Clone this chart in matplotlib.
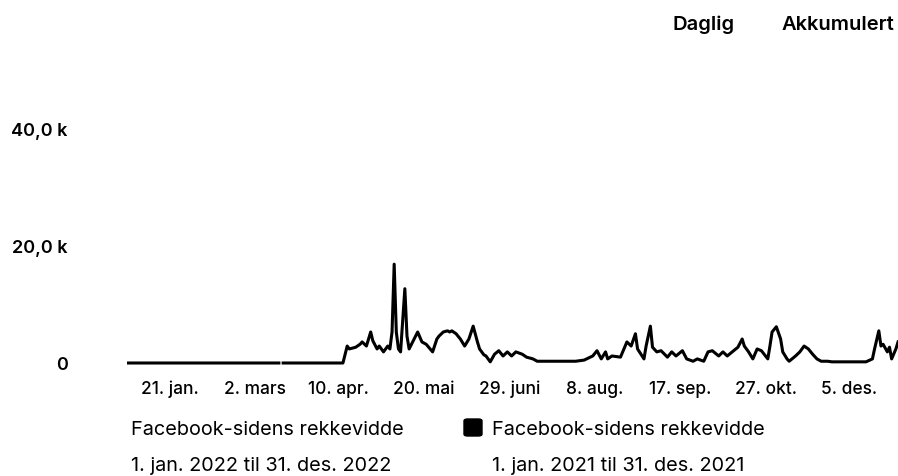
import numpy as np
import matplotlib
matplotlib.use("Agg")
from matplotlib import pyplot as plt
from matplotlib.patches import FancyBboxPatch

plt.rcParams['font.family'] = ['Inter', 'DejaVu Sans']

# day of year 2022 (0 = 1. jan.) and daily page reach
days = [0, 71, 72, 73, 101,
        103, 104, 107, 109, 110, 112, 114, 115, 117, 118, 120, 122, 123, 124,
        125, 126, 127, 128, 130, 131, 132, 135, 136, 138, 140, 143, 145, 146,
        148, 150, 151, 152, 154, 156, 158, 160, 162, 164, 165, 167, 168, 170,
        172, 174, 176, 178, 180, 182, 185, 187, 190, 192, 196, 200, 205, 210,
        214, 218, 220, 222, 224, 225, 227, 231, 234, 236, 238, 239, 242, 243,
        245, 246, 248, 250, 253, 255, 257, 260, 262, 265, 267, 270, 272, 274,
        277, 279, 281, 284, 286, 288, 289, 291, 293, 295, 297, 300, 301, 302,
        304, 306, 307, 309, 310, 313, 315, 317, 319, 321, 323, 325, 328, 330,
        334, 338, 343, 346, 349, 350, 352, 353, 354, 356, 357, 358, 360, 361]
reach = [0, 0, np.nan, 0, 0,
         2900, 2400, 2700, 3200, 3600, 2900, 5300, 3800, 2400, 2900, 1900, 2900, 2400, 5300,
         16900, 5300, 2400, 1900, 12700, 4600, 2400, 4600, 5300, 3600, 3200, 1900, 4100, 4600,
         5300, 5500, 5300, 5500, 5000, 4100, 2900, 4100, 6300, 3600, 2400, 1400, 1200, 200,
         1500, 2100, 1200, 1900, 1200, 1900, 1500, 1000, 700, 300, 300, 300, 300, 300,
         500, 1200, 2100, 700, 1900, 700, 1200, 1000, 3600, 2900, 5000, 2400, 700, 2900,
         6300, 2700, 1900, 2100, 1000, 1900, 1200, 2100, 700, 300, 700, 300, 1900, 2100,
         1200, 1900, 1200, 2100, 2700, 4100, 2900, 1900, 700, 2400, 2100, 700, 2900, 5300,
         6200, 4100, 1900, 700, 300, 1200, 1900, 2900, 2400, 1500, 700, 300, 300, 200,
         200, 200, 200, 200, 700, 2400, 5500, 2900, 3200, 1900, 2700, 700, 2400, 3600]

tick_days = [20, 60, 99, 139, 179, 219, 259, 299, 338]
tick_labels = ['21. jan.', '2. mars', '10. apr.', '20. mai', '29. juni',
               '8. aug.', '17. sep.', '27. okt.', '5. des.']
y_ticks = [0, 20000, 40000]
y_labels = ['0', '20,0 k', '40,0 k']

W, H = 898, 477
fig = plt.figure(figsize=(W / 100, H / 100), dpi=100)

px_day = 2.135
x0 = 127.3
px_k = 5.85          # pixels per 1000
y0 = 364             # pixel row of zero
ymin, ymax = -1000, 45000
bottom = y0 + (0 - ymin) / 1000 * px_k
top = y0 - ymax / 1000 * px_k
ax = fig.add_axes([x0 / W, (H - bottom) / H, (W - x0) / W, (bottom - top) / H])
ax.set_xlim(0, (W - x0) / px_day)
ax.set_ylim(ymin, ymax)

ax.plot(days, reach, color='black', lw=2.2, solid_joinstyle='round')

for s in ax.spines.values():
    s.set_visible(False)
ax.set_xticks(tick_days)
ax.set_xticklabels(tick_labels, fontsize=12.5, fontweight='medium')
ax.set_yticks(y_ticks)
ax.set_yticklabels(y_labels, fontsize=13, fontweight='semibold')
ax.tick_params(axis='x', length=0, pad=8)
ax.tick_params(axis='y', length=0, pad=43)

# top toggles
fig.text(672 / W, 1 - 25 / H, 'Daglig', fontsize=14.5, fontweight='semibold', va='center')
fig.text(782 / W, 1 - 25 / H, 'Akkumulert', fontsize=14.5, fontweight='semibold', va='center')

# legend
fig.text(131 / W, 1 - 430 / H, 'Facebook-sidens rekkevidde', fontsize=14.3, va='center')
fig.text(131 / W, 1 - 466 / H, '1. jan. 2022 til 31. des. 2022', fontsize=14.3, va='center')
fig.patches.append(FancyBboxPatch((464 / W, 1 - 437 / H), 18 / W, 17 / H,
                                  boxstyle='round,pad=0,rounding_size=0.004',
                                  transform=fig.transFigure, facecolor='black',
                                  edgecolor='black', lw=1))
fig.text(492 / W, 1 - 430 / H, 'Facebook-sidens rekkevidde', fontsize=14.3, va='center')
fig.text(492 / W, 1 - 466 / H, '1. jan. 2021 til 31. des. 2021', fontsize=14.3, va='center')

fig.savefig('out.png', dpi=100, facecolor='white')
